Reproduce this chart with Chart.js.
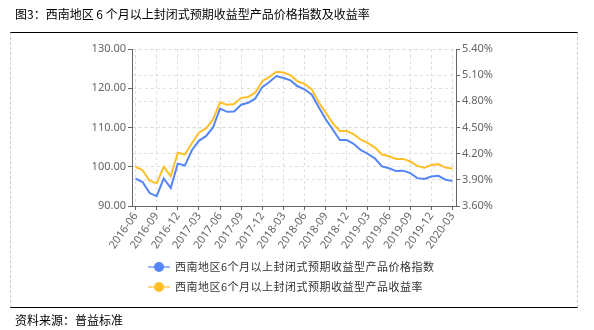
<!DOCTYPE html>
<html>
<head>
<meta charset="utf-8">
<script src="https://cdn.jsdelivr.net/npm/chart.js@4/dist/chart.umd.min.js"></script>
<style>
  body { margin: 0; background: #fff; }
  #wrap { position: relative; width: 594px; height: 330px; overflow: hidden; }
  #myChart { position: absolute; left: 0; top: 0; }
  .txt { position: absolute; font-family: "Noto Sans CJK SC", sans-serif; font-size: 12px; color: #000; white-space: nowrap; }
  #frame { position: absolute; left: 10px; top: 32px; width: 566px; height: 274px;
    border-top: 1px solid #000; border-bottom: 1px solid #000;
    border-left: 1px dashed #ccc; border-right: 1px dashed #ccc; }
  .leg { position: absolute; left: 148px; height: 14px; }
  .leg .ln { position: absolute; left: 0; top: 6px; width: 22px; height: 2px; opacity: 0.6; }
  .leg .dot { position: absolute; left: 6px; top: 2px; width: 10px; height: 10px; border-radius: 50%; }
  .leg .lab { position: absolute; left: 27px; top: -2px; font-family: "Noto Sans CJK SC", sans-serif;
    font-size: 11px; letter-spacing: 0.5px; color: #333; white-space: nowrap; }
</style>
</head>
<body>
<div id="wrap">
  <div id="frame"></div>
  <canvas id="myChart" width="594" height="330"></canvas>
  <div class="txt" style="left:15px; top:5px;">图3：西南地区 6 个月以上封闭式预期收益型产品价格指数及收益率</div>
  <div class="txt" style="left:15px; top:311px;">资料来源：普益标准</div>
  <div id="legend"></div>
</div>
<script>
let labels = ['2016-06', '2016-07', '2016-08', '2016-09', '2016-10', '2016-11', '2016-12',
    '2017-01', '2017-02', '2017-03', '2017-04', '2017-05', '2017-06', '2017-07', '2017-08',
    '2017-09', '2017-10', '2017-11', '2017-12', '2018-01', '2018-02', '2018-03', '2018-04',
    '2018-05', '2018-06', '2018-07', '2018-08', '2018-09', '2018-10', '2018-11', '2018-12',
    '2019-01', '2019-02', '2019-03', '2019-04', '2019-05', '2019-06', '2019-07', '2019-08',
    '2019-09', '2019-10', '2019-11', '2019-12', '2020-01', '2020-02', '2020-03'];

// 价格指数 (左轴)
let priceIndex = [97.0, 96.1, 93.3, 92.5, 97.0, 94.6, 100.8, 100.3, 104.2, 106.6, 107.8, 110.0,
    114.8, 114.0, 114.1, 115.8, 116.3, 117.4, 120.3, 121.6, 123.1, 122.6, 122.0, 120.5,
    119.7, 118.4, 115.2, 112.1, 109.5, 106.8, 106.8, 105.8, 104.2, 103.3, 102.1, 100.1,
    99.6, 98.9, 99.0, 98.4, 97.1, 96.9, 97.5, 97.7, 96.7, 96.4];

// 收益率 % (右轴)
let yieldRate = [4.05, 4.01, 3.89, 3.86, 4.05, 3.94, 4.21, 4.19, 4.32, 4.44, 4.49, 4.59,
    4.79, 4.76, 4.77, 4.84, 4.85, 4.90, 5.03, 5.08, 5.14, 5.13, 5.10, 5.03,
    5.00, 4.94, 4.79, 4.67, 4.55, 4.46, 4.46, 4.42, 4.36, 4.32, 4.27, 4.19,
    4.17, 4.14, 4.14, 4.11, 4.06, 4.04, 4.07, 4.08, 4.04, 4.03];

let seriesNames = ['西南地区6个月以上封闭式预期收益型产品价格指数', '西南地区6个月以上封闭式预期收益型产品收益率'];
let seriesColors = ['#5585f5', '#ffbf2a'];

const tickFont = { family: 'Noto Sans', size: 11 };
const gridColor = '#dedede';
const axisColor = '#666';

const data = {
    labels: labels,
    datasets: [
        {
            label: seriesNames[0],
            data: priceIndex,
            borderColor: seriesColors[0],
            backgroundColor: seriesColors[0],
            borderWidth: 2,
            pointRadius: 0,
            tension: 0,
            yAxisID: 'y'
        },
        {
            label: seriesNames[1],
            data: yieldRate,
            borderColor: seriesColors[1],
            backgroundColor: seriesColors[1],
            borderWidth: 2,
            pointRadius: 0,
            tension: 0,
            yAxisID: 'y1'
        }
    ]
};

const config = {
    type: 'line',
    data: data,
    options: {
        responsive: false,
        animation: false,
        layout: { padding: { left: 0, right: 0, top: 49, bottom: 0 } },
        plugins: {
            legend: { display: false },
            tooltip: { enabled: false }
        },
        scales: {
            x: {
                offset: true,
                afterFit: function (s) { s.height = 124; },
                grid: {
                    color: (c) => c.index % 3 === 0 ? gridColor : 'rgba(0,0,0,0)',
                    tickColor: (c) => c.index % 3 === 0 ? axisColor : 'rgba(0,0,0,0)',
                    tickLength: 4,
                    tickBorderDash: []
                },
                border: { color: axisColor, dash: [3, 3] },
                ticks: {
                    autoSkip: false,
                    minRotation: 55,
                    maxRotation: 55,
                    padding: 0,
                    color: '#666',
                    font: tickFont,
                    callback: function (v, i) { return i % 3 === 0 ? labels[i] : ''; }
                }
            },
            y: {
                position: 'left',
                min: 90,
                max: 130,
                afterFit: function (s) { s.width = 132; },
                grid: { color: gridColor, tickColor: axisColor, tickLength: 4, tickBorderDash: [] },
                border: { color: axisColor, dash: [3, 3] },
                ticks: {
                    stepSize: 10,
                    padding: 2,
                    color: '#666',
                    font: tickFont,
                    callback: (v) => v.toFixed(2)
                }
            },
            y1: {
                position: 'right',
                min: 3.6,
                max: 5.4,
                afterFit: function (s) { s.width = 138; },
                grid: { color: gridColor, tickColor: axisColor, tickLength: 4, tickBorderDash: [] },
                border: { color: axisColor, dash: [3, 3] },
                ticks: {
                    stepSize: 0.3,
                    padding: 2,
                    color: '#666',
                    font: tickFont,
                    callback: (v) => v.toFixed(2) + '%'
                }
            }
        }
    }
};

var myChart = new Chart(document.getElementById('myChart'), config);

// legend (two rows, left aligned)
let legendTops = [260, 280];
let legendBox = document.getElementById('legend');
seriesNames.forEach((name, i) => {
    let row = document.createElement('div');
    row.className = 'leg';
    row.style.top = legendTops[i] + 'px';
    row.innerHTML = '<div class="ln" style="background:' + seriesColors[i] + '"></div>' +
        '<div class="dot" style="background:' + seriesColors[i] + '"></div>' +
        '<div class="lab">' + name + '</div>';
    legendBox.appendChild(row);
});
</script>
</body>
</html>
